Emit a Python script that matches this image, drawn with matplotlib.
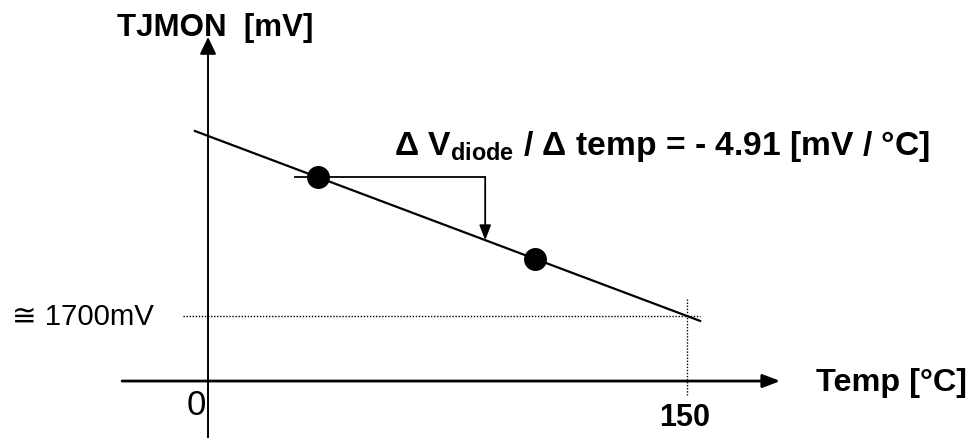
import matplotlib
matplotlib.use("Agg")
import matplotlib.pyplot as plt

plt.rcParams['font.family'] = ['Liberation Sans', 'DejaVu Sans']
plt.rcParams['mathtext.fontset'] = 'custom'
plt.rcParams['mathtext.rm'] = 'Liberation Sans:bold'
plt.rcParams['mathtext.it'] = 'Liberation Sans:bold'
plt.rcParams['mathtext.bf'] = 'Liberation Sans:bold'

# ---- data (temperature in °C, TJMON voltage in mV) ----
line_temp = [-4.1, 154.1]
line_mv = [2456.6, 1679.9]
point_temp = [34.4, 102.4]
point_mv = [2267.6, 1933.7]
bracket_temp = [27.2, 86.8, 86.8]
bracket_mv = [2267.6, 2267.6, 2010.0]
ref_mv = 1700
ref_temp = 150
x_tick_labels = ["0", "150"]
slope_label = "Δ V$_{diode}$ / Δ temp = - 4.91 [mV / °C]"

fig = plt.figure(figsize=(9.67, 4.39), dpi=100)
ax = fig.add_axes([0, 0, 1, 1])
ax.set_xlim(-65.14, 237.68)
ax.set_ylim(1201.0, 2996.5)
ax.axis('off')

# axes with arrows
ax.annotate('', xy=(0, 2841), xytext=(0, 1201.0),
            arrowprops=dict(arrowstyle='-|>,head_length=1.05,head_width=0.5',
                            color='black', lw=1.4, shrinkA=0, shrinkB=0))
ax.annotate('', xy=(179.2, 1434), xytext=(-26.9, 1434),
            arrowprops=dict(arrowstyle='-|>,head_length=1.05,head_width=0.4',
                            color='black', lw=2.0, shrinkA=0, shrinkB=0))

# dotted reference lines
ax.plot([-7.8, 154.1], [ref_mv, ref_mv], color='black', lw=1.0, ls=(0, (1, 1.2)))
ax.plot([ref_temp, ref_temp], [1769.5, 1376.9], color='black', lw=1.0, ls=(0, (1, 1.2)))

# main line
ax.plot(line_temp, line_mv, color='black', lw=1.6)

# bracket arrow
ax.plot(bracket_temp[:2], bracket_mv[:2], color='black', lw=1.3)
ax.annotate('', xy=(bracket_temp[2], bracket_mv[2]), xytext=(bracket_temp[1], bracket_mv[1]),
            arrowprops=dict(arrowstyle='-|>,head_length=0.9,head_width=0.35',
                            color='black', lw=1.3, shrinkA=0, shrinkB=0))

# points
ax.plot(point_temp, point_mv, 'o', color='black', markersize=15.5)

# text
ax.text(-28.5, 2884, "TJMON  [mV]", fontsize=22.5, fontweight='bold', ha='left', va='center')
ax.text(190.3, 1432, "Temp [°C]", fontsize=23.3, fontweight='bold', ha='left', va='center')
ax.text(-3.8, 1338, x_tick_labels[0], fontsize=25, ha='center', va='center')
ax.text(149.2, 1286, x_tick_labels[1], fontsize=22, fontweight='bold', ha='center', va='center')
ax.text(-61.5, 1702, "≅ 1700mV", fontsize=21.2, ha='left', va='center')
ax.text(58.3, 2398, slope_label, fontsize=24.2, fontweight='bold', ha='left', va='center')

fig.savefig("out.png", dpi=100)
